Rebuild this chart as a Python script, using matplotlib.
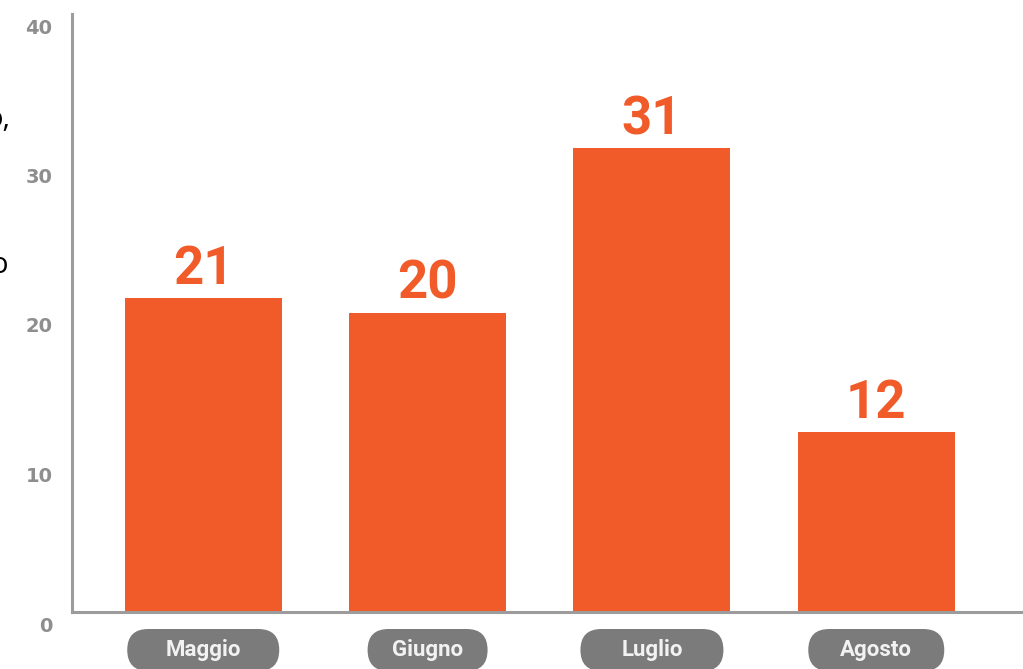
import matplotlib
matplotlib.use("Agg")
import matplotlib.pyplot as plt
from matplotlib.patches import FancyBboxPatch
from matplotlib.transforms import Affine2D, ScaledTranslation

# dati: iscrizioni per mese
mesi = ["Maggio", "Giugno", "Luglio", "Agosto"]
valori = [21, 20, 31, 12]
yticks = [0, 10, 20, 30, 40]

ARANCIO = "#f15a29"
GRIGIO = "#8e8e8e"
W, H = 1023, 669

fig = plt.figure(figsize=(W / 100, H / 100), dpi=100)
ax = fig.add_axes([72 / W, (H - 611.5) / H, 951 / W, 598 / H])

x = range(len(mesi))
barre = ax.bar(x, valori, width=0.7, color=ARANCIO, zorder=2)
ax.set_xlim(-0.585, 3.654)
ax.set_ylim(0, 40)

for b, v in zip(barre, valori):
    ax.annotate(str(v), (b.get_x() + b.get_width() / 2, v), xytext=(0, 10),
                textcoords="offset points", ha="center", va="baseline",
                fontsize=38, fontweight="bold", family="Roboto", color=ARANCIO)

# assi
for s in ["top", "right"]:
    ax.spines[s].set_visible(False)
for s in ["left", "bottom"]:
    ax.spines[s].set_color("#9c9c9c")
    ax.spines[s].set_linewidth(2.2)
ax.set_xticks([])
ax.set_yticks(yticks)
ax.set_yticklabels([str(t) for t in yticks], fontsize=14, fontweight="bold",
                   family="DejaVu Sans", color=GRIGIO)
ax.tick_params(axis="y", length=0, pad=14)
sposta = ScaledTranslation(0, -0.125, fig.dpi_scale_trans)
for tick in ax.yaxis.get_major_ticks():
    tick.label1.set_transform(tick.label1.get_transform() + sposta)

# etichette dei mesi in pillole grigie
pix = Affine2D().scale(1 / W, -1 / H).translate(0, 1) + fig.transFigure
larghezze = [152, 120, 143, 136]
for i, (m, w) in enumerate(zip(mesi, larghezze)):
    cx = ax.transData.transform((i, 0))[0]
    fig.patches.append(FancyBboxPatch((cx - w / 2, 629), w, 42,
                                      boxstyle="round,pad=0,rounding_size=21",
                                      transform=pix, facecolor="#7b7b7b",
                                      edgecolor="none", clip_on=False))
    fig.text(cx, 650, m, transform=pix, ha="center", va="center",
             fontsize=16, fontweight="bold", family="Roboto", color="#f2f2f2")

# frammenti del testo accanto
fig.text(10, 127, "o,", transform=pix, ha="right", va="baseline",
         fontsize=21, family="Open Sans", color="black")
fig.text(8, 273, "o", transform=pix, ha="right", va="baseline",
         fontsize=21, family="Open Sans", color="black")

fig.savefig("out.png", dpi=100)
